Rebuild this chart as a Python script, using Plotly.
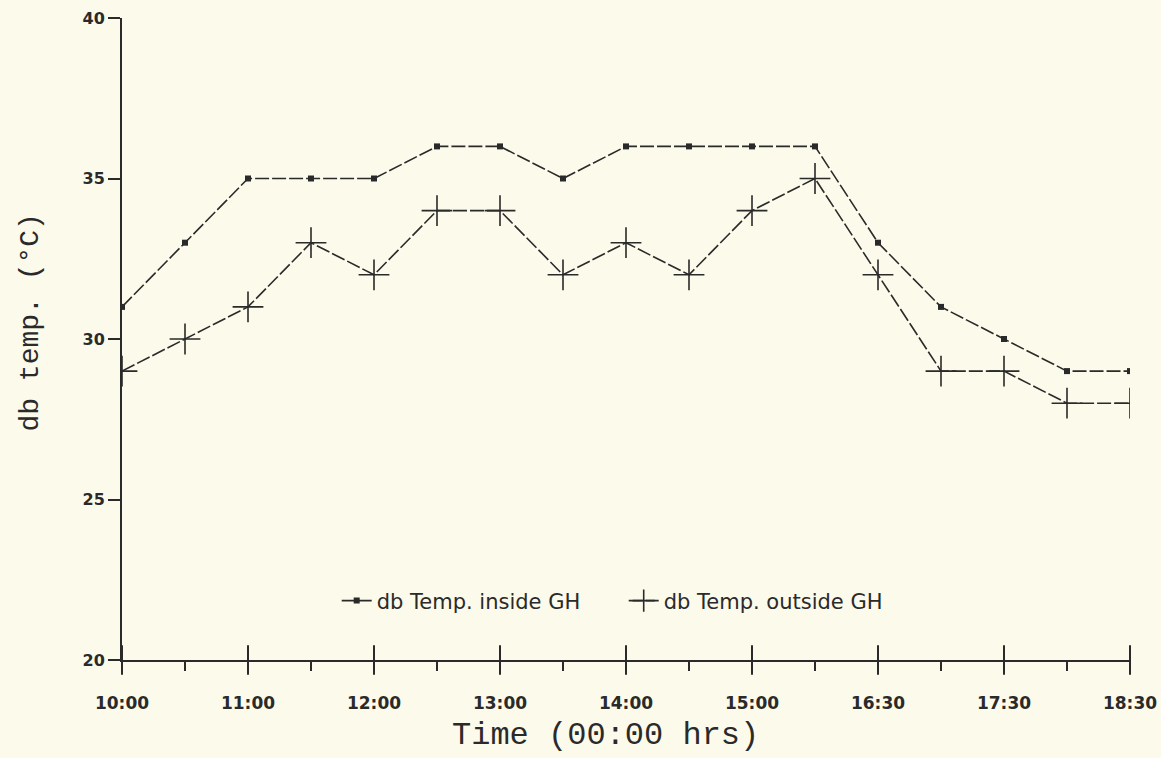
import plotly.graph_objects as go

# Half-hour sample index (0 = 10:00)
x_idx = list(range(17))
inside_temp = [31, 33, 35, 35, 35, 36, 36, 35, 36, 36, 36, 36, 33, 31, 30, 29, 29]
outside_temp = [29, 30, 31, 33, 32, 34, 34, 32, 33, 32, 34, 35, 32, 29, 29, 28, 28]

x_tick_vals = [0, 2, 4, 6, 8, 10, 12, 14, 16]
x_minor_vals = [1, 3, 5, 7, 9, 11, 13, 15]
x_tick_text = ["10:00", "11:00", "12:00", "13:00", "14:00", "15:00", "16:30", "17:30", "18:30"]
y_tick_vals = [20, 25, 30, 35, 40]
y_min, y_max = 20, 40

ink = "#2a2a2a"
paper = "#fcfaeb"

fig = go.Figure()
fig.add_trace(go.Scatter(
    x=x_idx, y=inside_temp, mode="lines+markers",
    name="db Temp. inside GH",
    line=dict(color=ink, width=1.6, dash="14px,3px"),
    marker=dict(symbol="square", size=6, color=ink),
))
fig.add_trace(go.Scatter(
    x=x_idx, y=outside_temp, mode="lines+markers",
    name="db Temp. outside GH",
    line=dict(color=ink, width=1.6, dash="14px,3px"),
    marker=dict(symbol="cross-thin", size=22, color=ink, line=dict(color=ink, width=1.6)),
))
# major x ticks cross the axis line: draw them as vertical tick markers at the tick values
fig.add_trace(go.Scatter(
    x=x_tick_vals, y=[y_min] * len(x_tick_vals), mode="markers", cliponaxis=False,
    marker=dict(symbol="line-ns", size=21, color=ink, line=dict(color=ink, width=2)),
    showlegend=False, hoverinfo="skip",
))

fig.update_layout(
    width=1161, height=758,
    margin=dict(l=122, r=31, t=18, b=98),
    paper_bgcolor=paper, plot_bgcolor=paper,
    showlegend=True,
    legend=dict(orientation="h", x=0.213, y=0.092, xanchor="left", yanchor="middle",
                bgcolor="rgba(0,0,0,0)", font=dict(family="DejaVu Sans", size=21, color=ink),
                itemwidth=30, tracegroupgap=0, entrywidth=242),
    xaxis=dict(
        range=[0, 16], tickvals=x_tick_vals, ticktext=x_tick_text, automargin=False,
        showgrid=False, zeroline=False, showline=True, linecolor=ink, linewidth=2,
        ticks="outside", ticklen=10, tickwidth=2, tickcolor=ink,
        minor=dict(tickvals=x_minor_vals, ticks="outside", ticklen=9,
                   tickwidth=2, tickcolor=ink),
        ticklabelstandoff=17,
        tickfont=dict(family="DejaVu Sans", size=17, color=ink, weight="bold"),
    ),
    yaxis=dict(
        range=[y_min, y_max], tickvals=y_tick_vals, ticktext=[str(v) for v in y_tick_vals],
        automargin=False,
        showgrid=False, zeroline=False, showline=True, linecolor=ink, linewidth=2,
        ticks="outside", ticklen=12, tickwidth=2, tickcolor=ink,
        tickfont=dict(family="DejaVu Sans", size=16, color=ink, weight="bold"),
    ),
    annotations=[
        dict(text="db temp. (°C)", xref="paper", yref="paper", x=-0.091, y=0.526,
             xanchor="center", yanchor="middle", textangle=-90, showarrow=False,
             font=dict(family="Liberation Mono", size=28, color=ink)),
        dict(text="Time (00:00 hrs)", xref="paper", yref="paper", x=0.48, y=-0.117,
             xanchor="center", yanchor="middle", showarrow=False,
             font=dict(family="Liberation Mono", size=32, color=ink)),
    ],
)

fig.write_html("out.html")
